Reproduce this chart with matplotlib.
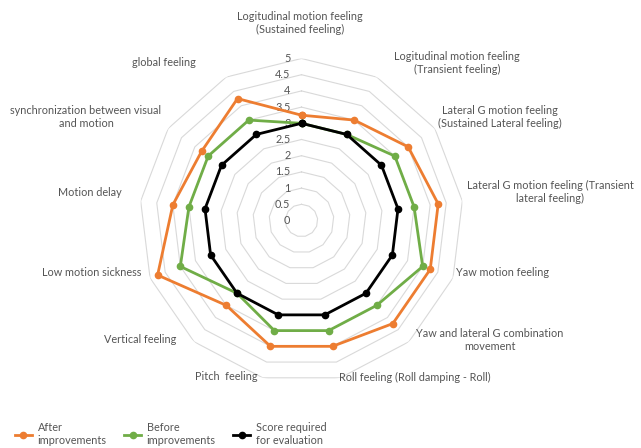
import numpy as np
import matplotlib
matplotlib.use("Agg")
import matplotlib.pyplot as plt
from matplotlib.lines import Line2D

plt.rcParams["font.family"] = ["Lato", "DejaVu Sans"]

# Evaluation items (clockwise from the top)
categories = [
    "Logitudinal motion feeling\n(Sustained feeling)",
    "Logitudinal motion feeling\n(Transient feeling)",
    "Lateral G motion feeling\n(Sustained Lateral feeling)",
    "Lateral G motion feeling (Transient\nlateral feeling)",
    "Yaw motion feeling",
    "Yaw and lateral G combination\nmovement",
    "Roll feeling (Roll damping - Roll)",
    "Pitch  feeling",
    "Vertical feeling",
    "Low motion sickness",
    "Motion delay",
    "synchronization between visual\nand motion",
    "global feeling",
]

after_scores = [3.25, 3.5, 4.0, 4.25, 4.25, 4.25, 4.0, 4.0, 3.5, 4.75, 4.0, 3.75, 4.25]
before_scores = [3.0, 3.0, 3.5, 3.5, 4.0, 3.5, 3.5, 3.5, 3.0, 4.0, 3.5, 3.5, 3.5]
required_scores = [3.0] * 13

series_names = ["After\nimprovements", "Before\nimprovements", "Score required\nfor evaluation"]
series_colors = ["#ED7D31", "#70AD47", "#000000"]

tick_values = np.arange(0, 5.01, 0.5)
tick_labels = ["0", "0.5", "1", "1.5", "2", "2.5", "3", "3.5", "4", "4.5", "5"]

# label centres in pixels (x from left, y from top)
label_pos = [
    (300, 23), (457, 63), (500, 117), (550, 192), (503, 273), (490, 340),
    (415, 377), (226, 377), (140, 339), (92, 273), (90, 193), (86, 117), (164, 63),
]

W, H = 641, 448
text_color = "#555555"
grid_color = "#D9D9D9"

fig = plt.figure(figsize=(W / 100, H / 100), dpi=100)
cx, cy, R = 301.5, 220.5, 162
ax = fig.add_axes([(cx - R) / W, (H - cy - R) / H, 2 * R / W, 2 * R / H], polar=True)
ax.set_theta_zero_location("N")
ax.set_theta_direction(-1)
ax.set_ylim(0, 5)
ax.grid(False)
ax.set_xticks([])
ax.set_yticks([])
ax.spines["polar"].set_visible(False)
ax.patch.set_alpha(0)

n = len(categories)
angles = np.linspace(0, 2 * np.pi, n, endpoint=False)
closed = np.append(angles, angles[0])

# polygon grid rings
for v in tick_values[1:]:
    ax.plot(closed, [v] * (n + 1), color=grid_color, lw=0.8, zorder=1)

# scale labels along the top axis
for v, t in zip(tick_values, tick_labels):
    ax.annotate(t, xy=(0, v), xytext=(-8, 0), textcoords="offset points",
                ha="right", va="center", fontsize=7.8, color=text_color)

series = [after_scores, before_scores, required_scores]
handles = []
for vals, name, col, z in zip(series, series_names, series_colors, [3, 4, 5]):
    ax.plot(closed, vals + vals[:1], color=col, lw=2, marker="o", ms=4.5, zorder=z,
            clip_on=False)
    handles.append(Line2D([], [], color=col, lw=2, marker="o", ms=4.5, label=name))

for cat, (px, py) in zip(categories, label_pos):
    fig.text(px / W, 1 - py / H, cat, ha="center", va="center", multialignment="center",
             fontsize=7.8, color=text_color, linespacing=1.25)

fig.legend(handles=handles, loc="lower left", bbox_to_anchor=(5 / W, -8 / H), ncol=3,
           frameon=False, fontsize=7.8, labelcolor=text_color, handlelength=1.6,
           handletextpad=0.5, columnspacing=1.6)

fig.savefig("out.png", dpi=100)
